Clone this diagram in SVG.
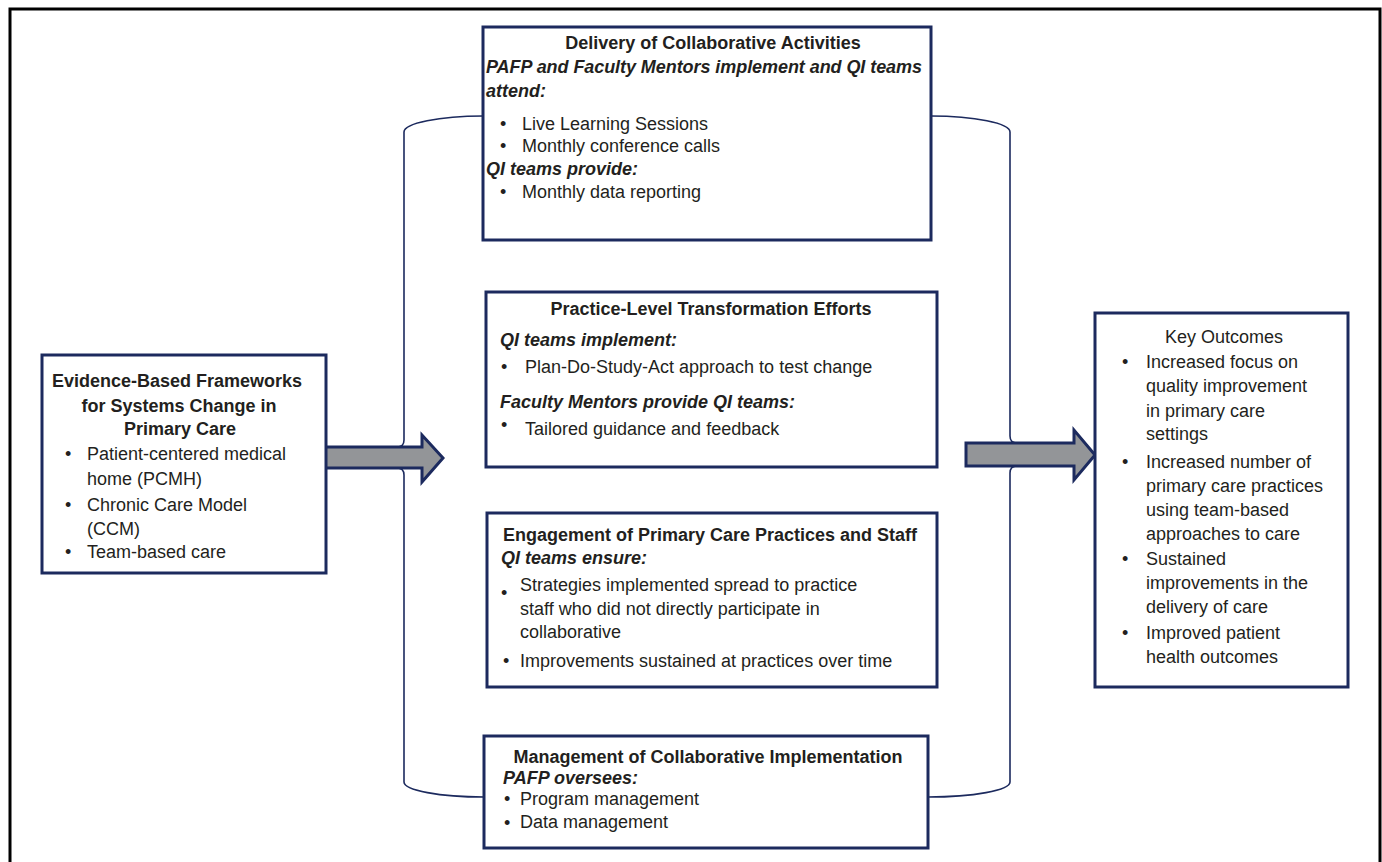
<svg xmlns="http://www.w3.org/2000/svg" width="1382" height="862" viewBox="0 0 1382 862">
<style>
text{font-family:"Liberation Sans",Arial,sans-serif;font-size:18px;fill:#231f20}
.b{font-weight:bold}
.bi{font-weight:bold;font-style:italic}
.m{text-anchor:middle}
.box{fill:#fff;stroke:#1c2a5e;stroke-width:3}
.br{fill:none;stroke:#1c2a5e;stroke-width:1.6}
.arr{fill:#939598;stroke:#1c2a5e;stroke-width:3;stroke-linejoin:miter}
</style>
<rect x="0" y="0" width="1382" height="862" fill="#fff"/>
<rect x="10" y="9" width="1370" height="900" fill="none" stroke="#000" stroke-width="3"/>
<g id="connectors">
<path class="br" d="M483,116 A79,16 0 0 0 404,132 V440 Q404,447 397,447 H340"/>
<path class="br" d="M340,468 H397 Q404,468 404,475 V782 A80,15 0 0 0 484,797"/>
<path class="br" d="M931,116 A79,16 0 0 1 1010,132 V436 Q1010,443 1017,443 H1060"/>
<path class="br" d="M1060,466 H1017 Q1010,466 1010,473 V782 A82,15 0 0 1 928,797"/>
<polygon class="arr" points="325,447 422,447 422,435 443,458 422,482 422,468 325,468"/>
<polygon class="arr" points="966,443 1074,443 1074,430 1095,455 1074,480 1074,466 966,466"/>
</g>
<g id="delivery">
<rect class="box" x="483" y="27" width="448" height="213"/>
<text class="b m" x="713" y="49">Delivery of Collaborative Activities</text>
<text class="bi" x="486" y="73" textLength="436">PAFP and Faculty Mentors implement and QI teams</text>
<text class="bi" x="486" y="97">attend:</text>
<text x="500" y="130">•</text><text x="522" y="130">Live Learning Sessions</text>
<text x="500" y="152">•</text><text x="522" y="152">Monthly conference calls</text>
<text class="bi" x="486" y="175">QI teams provide:</text>
<text x="500" y="198">•</text><text x="522" y="198">Monthly data reporting</text>
</g>
<g id="practice">
<rect class="box" x="486" y="292" width="451" height="175"/>
<text class="b m" x="711" y="315">Practice-Level Transformation Efforts</text>
<text class="bi" x="500" y="346">QI teams implement:</text>
<text x="501" y="373">•</text><text x="525" y="373">Plan-Do-Study-Act approach to test change</text>
<text class="bi" x="500" y="408">Faculty Mentors provide QI teams:</text>
<text x="501" y="431">•</text><text x="525" y="435">Tailored guidance and feedback</text>
</g>
<g id="engagement">
<rect class="box" x="487" y="513" width="450" height="174"/>
<text class="b m" x="710" y="541">Engagement of Primary Care Practices and Staff</text>
<text class="bi" x="501" y="564">QI teams ensure:</text>
<text x="501" y="599">•</text><text x="520" y="591">Strategies implemented spread to practice</text>
<text x="520" y="615">staff who did not directly participate in</text>
<text x="520" y="638">collaborative</text>
<text x="503" y="667">•</text><text x="520" y="667">Improvements sustained at practices over time</text>
</g>
<g id="management">
<rect class="box" x="484" y="736" width="444" height="112"/>
<text class="b m" x="708" y="763">Management of Collaborative Implementation</text>
<text class="bi" x="503" y="784">PAFP oversees:</text>
<text x="504" y="805">•</text><text x="520" y="805">Program management</text>
<text x="504" y="829">•</text><text x="520" y="828">Data management</text>
</g>
<g id="frameworks">
<rect class="box" x="42" y="355" width="284" height="218"/>
<text class="b m" x="177" y="387">Evidence-Based Frameworks</text>
<text class="b m" x="179" y="412">for Systems Change in</text>
<text class="b m" x="180" y="435">Primary Care</text>
<text x="65" y="460">•</text><text x="87" y="460">Patient-centered medical</text>
<text x="87" y="485">home (PCMH)</text>
<text x="65" y="511">•</text><text x="87" y="511">Chronic Care Model</text>
<text x="87" y="535">(CCM)</text>
<text x="65" y="558">•</text><text x="87" y="558">Team-based care</text>
</g>
<g id="outcomes">
<rect class="box" x="1095" y="313" width="253" height="374"/>
<text class="m" x="1224" y="343">Key Outcomes</text>
<text x="1122" y="368">•</text><text x="1146" y="368">Increased focus on</text>
<text x="1146" y="392">quality improvement</text>
<text x="1146" y="417">in primary care</text>
<text x="1146" y="440">settings</text>
<text x="1122" y="468">•</text><text x="1146" y="468">Increased number of</text>
<text x="1146" y="492">primary care practices</text>
<text x="1146" y="516">using team-based</text>
<text x="1146" y="540">approaches to care</text>
<text x="1122" y="565">•</text><text x="1146" y="565">Sustained</text>
<text x="1146" y="589">improvements in the</text>
<text x="1146" y="613">delivery of care</text>
<text x="1122" y="639">•</text><text x="1146" y="639">Improved patient</text>
<text x="1146" y="663">health outcomes</text>
</g>
</svg>
